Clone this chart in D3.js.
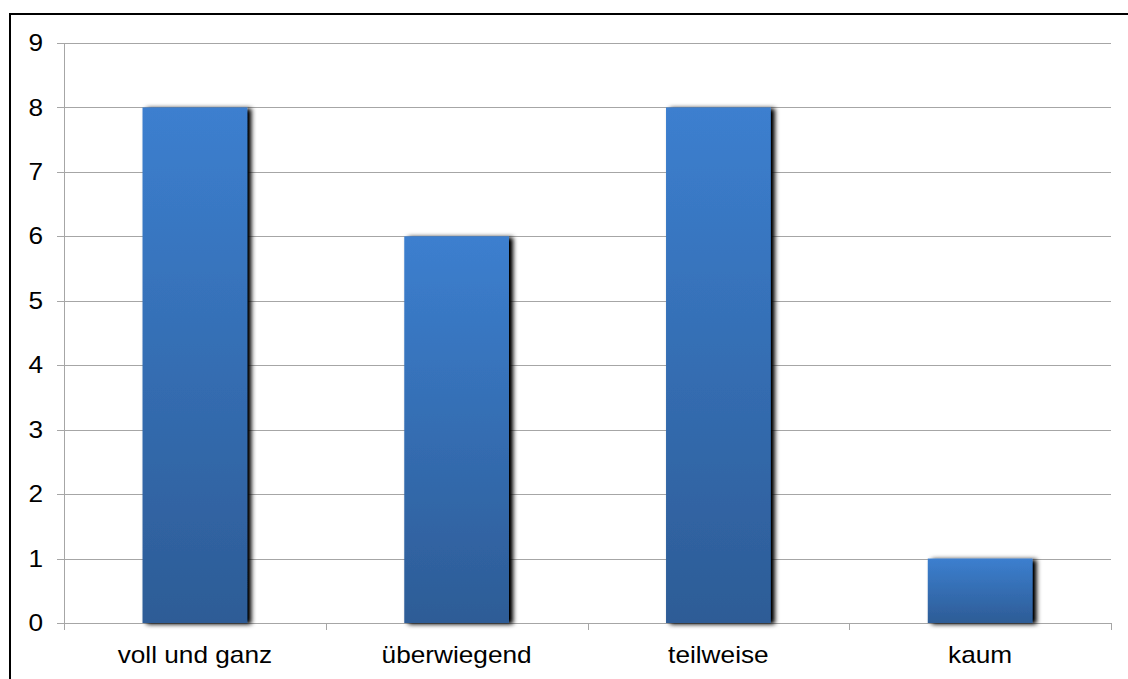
<!DOCTYPE html>
<html>
<head>
<meta charset="utf-8">
<script src="https://cdn.jsdelivr.net/npm/d3@7"></script>
<style>
  body { margin: 0; background: #fff; }
  text { font-family: Arial, "Liberation Sans", sans-serif; }
</style>
</head>
<body>
<div id="chart-area"></div>
<script>
var categories = ["voll und ganz", "überwiegend", "teilweise", "kaum"];
var counts = [8, 6, 8, 1];
var yTicks = [0, 1, 2, 3, 4, 5, 6, 7, 8, 9];

var svg = d3.select("#chart-area")
    .append("svg")
    .attr("width", 1128)
    .attr("height", 679);

// frame
svg.append("rect")
    .attr("x", 10).attr("y", 14)
    .attr("width", 1130).attr("height", 680)
    .attr("fill", "none")
    .attr("stroke", "#000")
    .attr("stroke-width", 2);

var defs = svg.append("defs");
var grad = defs.append("linearGradient")
    .attr("id", "barGrad")
    .attr("x1", 0).attr("y1", 0).attr("x2", 0).attr("y2", 1);
grad.append("stop").attr("offset", "0%").attr("stop-color", "#3c7fcf");
grad.append("stop").attr("offset", "100%").attr("stop-color", "#2d5c96");

var shadow = defs.append("filter")
    .attr("id", "shadow")
    .attr("x", "-20%").attr("y", "-20%")
    .attr("width", "140%").attr("height", "140%");
shadow.append("feGaussianBlur").attr("in", "SourceAlpha").attr("stdDeviation", 2.5).attr("result", "blur");
shadow.append("feOffset").attr("in", "blur").attr("dx", 4).attr("dy", 1).attr("result", "off");
shadow.append("feComponentTransfer").attr("in", "off").attr("result", "dark")
    .append("feFuncA").attr("type", "linear").attr("slope", 1.1);
var merge = shadow.append("feMerge");
merge.append("feMergeNode").attr("in", "dark");
merge.append("feMergeNode").attr("in", "SourceGraphic");

var plotLeft = 64, plotRight = 1111, plotTop = 43, plotBottom = 623;
var stretch = 1.14; // the source text is a little wide

var x = d3.scaleBand()
    .domain(categories)
    .range([plotLeft, plotRight])
    .paddingInner(0.6)
    .paddingOuter(0.3);

var xEdge = d3.scaleLinear()
    .domain([0, categories.length])
    .range([plotLeft, plotRight]);

var y = d3.scaleLinear()
    .domain([0, 9])
    .range([plotBottom, plotTop]);

// gridlines
svg.append("g")
    .selectAll("line")
    .data(yTicks)
    .enter()
    .append("line")
    .attr("x1", plotLeft - 7)
    .attr("x2", plotRight)
    .attr("y1", (d) => Math.round(y(d)) + 0.5)
    .attr("y2", (d) => Math.round(y(d)) + 0.5)
    .attr("stroke", "#a6a6a6")
    .attr("stroke-width", 1);

// y axis line
svg.append("line")
    .attr("x1", plotLeft + 0.5).attr("x2", plotLeft + 0.5)
    .attr("y1", plotTop).attr("y2", plotBottom)
    .attr("stroke", "#a6a6a6");

// y tick labels
svg.append("g")
    .selectAll("text")
    .data(yTicks)
    .enter()
    .append("text")
    .attr("transform", (d) => "translate(43," + y(d) + ") scale(" + stretch + ",1)")
    .attr("dy", "0.35em")
    .attr("text-anchor", "end")
    .attr("font-size", 23)
    .attr("fill", "#000")
    .text((d) => d);

// x ticks
svg.append("g")
    .selectAll("line")
    .data(d3.range(categories.length + 1))
    .enter()
    .append("line")
    .attr("x1", (d) => Math.round(xEdge(d)) + 0.5)
    .attr("x2", (d) => Math.round(xEdge(d)) + 0.5)
    .attr("y1", plotBottom)
    .attr("y2", plotBottom + 7)
    .attr("stroke", "#a6a6a6");

// bars
svg.append("g")
    .selectAll("rect")
    .data(counts)
    .enter()
    .append("rect")
    .attr("x", (d, i) => x(categories[i]))
    .attr("y", (d) => y(d))
    .attr("width", x.bandwidth())
    .attr("height", (d) => y(0) - y(d))
    .attr("fill", "url(#barGrad)")
    .attr("filter", "url(#shadow)");

// x labels
svg.append("g")
    .selectAll("text")
    .data(categories)
    .enter()
    .append("text")
    .attr("transform", (d) => "translate(" + (x(d) + x.bandwidth() / 2) + ",663) scale(" + stretch + ",1)")
    .attr("text-anchor", "middle")
    .attr("font-size", 23)
    .attr("fill", "#000")
    .text((d) => d);
</script>
</body>
</html>
